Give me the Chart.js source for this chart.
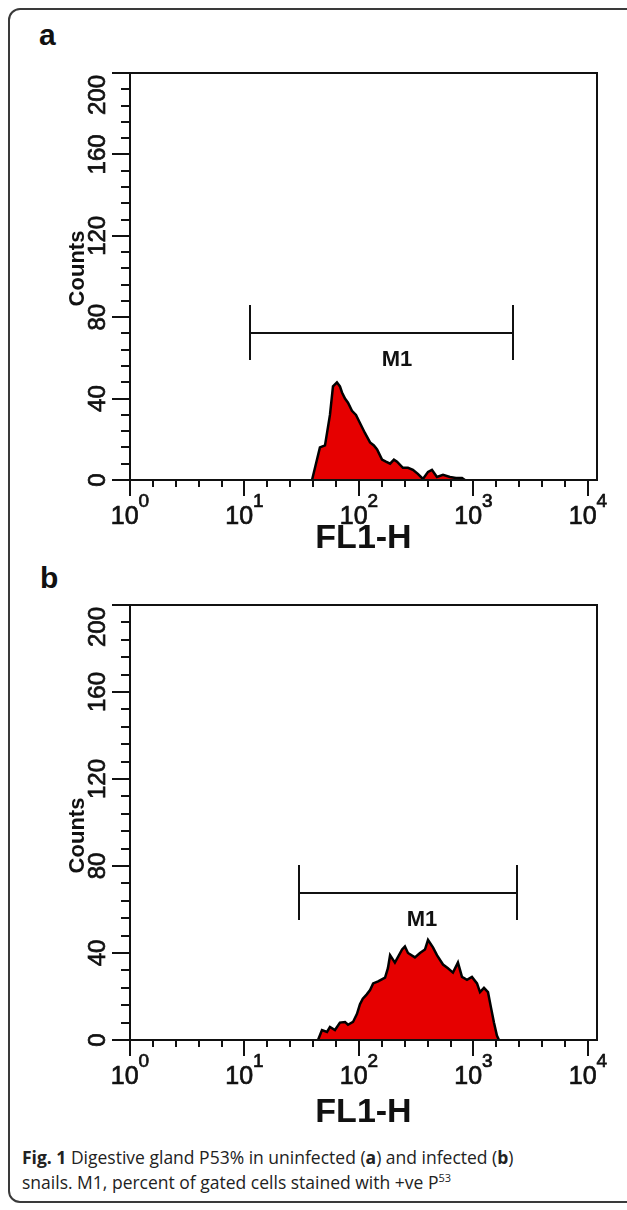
<!DOCTYPE html>
<html>
<head>
<meta charset="utf-8">
<script src="https://cdn.jsdelivr.net/npm/chart.js@4.4.1/dist/chart.umd.min.js"></script>
<style>
  html, body { margin: 0; padding: 0; background: #fff; }
  body { width: 627px; height: 1210px; position: relative; overflow: hidden; font-family: "Liberation Sans", Arial, sans-serif; }
  #frame { position: absolute; left: 8px; top: 8px; width: 640px; height: 1195px; border: 2px solid #3a3a3a; border-radius: 12px; box-sizing: border-box; }
  canvas { position: absolute; left: 0; }
  #cA { top: 0; }
  #cB { top: 560px; }
  .panel { position: absolute; font: bold 30px "Liberation Sans", Arial, sans-serif; color: #111; line-height: 30px; }
  #la { left: 39px; top: 20px; }
  #lb { left: 40px; top: 563px; }
  #cap { position: absolute; left: 22px; top: 1145px; font: 17.5px "Open Sans", sans-serif; line-height: 25px; color: #222; white-space: nowrap; }
  #cap sup { font-size: 11px; line-height: 0; }
</style>
</head>
<body>
<div id="frame"></div>
<div class="panel" id="la">a</div>
<div class="panel" id="lb">b</div>
<canvas id="cA" width="627" height="560"></canvas>
<canvas id="cB" width="627" height="580"></canvas>
<div id="cap"><b>Fig. 1</b> Digestive gland P53% in uninfected (<b>a</b>) and infected (<b>b</b>)<br>snails. M1, percent of gated cells stained with +ve P<sup>53</sup></div>
<script>
// ---------- data ----------
// Panel a (uninfected): FL1-H channel value and counts
const fl1A = [38.9, 41.3, 45.6, 50.5, 55.8, 59.3, 64.2, 68.2, 71.1, 75.5, 80.2, 86.9, 94.2, 102, 113, 125, 135, 144, 159, 172, 187, 202, 215, 242, 268, 296, 327, 362, 401, 434, 480, 542, 624, 703, 794, 843];
const countsA = [0, 6, 16, 17, 32, 46, 48, 46, 43, 40, 38, 34, 32, 28, 23, 18.5, 17, 15, 10, 9, 8, 10, 9, 6, 6, 5, 3, 0.5, 4, 5, 1.5, 2.5, 1.5, 1, 1, 0];
// Panel b (infected)
const fl1B = [43.9, 47.5, 52.6, 55.8, 61.7, 68.2, 75.5, 80.2, 88.7, 96.1, 102, 108, 117, 125, 133, 147, 169, 179, 187, 206, 238, 252, 268, 308, 341, 377, 401, 443, 480, 542, 599, 662, 732, 794, 878, 970, 1074, 1141, 1236, 1340, 1422, 1510, 1603, 1671];
const countsB = [0, 4.6, 3.7, 6, 4.6, 8, 8.3, 7, 8.3, 12, 16.5, 19, 21, 23, 26, 27, 28.7, 33, 39, 35.6, 41.6, 43, 40, 38, 40, 41.6, 46, 42.6, 39, 34.7, 33, 31, 35.6, 29, 27.7, 29, 26, 22, 24, 22, 15, 8, 2, 0];
// M1 gates: [low, high] FL1-H and bar level (counts)
const gateA = [11.2, 2213];
const gateLevelA = 72;
const gateB = [29.9, 2399];
const gateLevelB = 67.6;
// Axis ticks
const xDecades = [0, 1, 2, 3, 4];
const yMajorTicks = [0, 40, 80, 120, 160, 200];
const yTickLabels = ['0', '40', '80', '120', '160', '200'];
const xAxisTitle = 'FL1-H';
const yAxisTitle = 'Counts';
const gateLabel = 'M1';

// ---------- drawing ----------
const FONT = '"Liberation Sans", Arial, sans-serif';

function heavyText(ctx, s, x, y) {
  ctx.fillText(s, x, y);
  ctx.strokeText(s, x, y);
}

function axesPlugin(gate, level, labelX, titleOffset, countsShift) {
  return {
    id: 'flowAxes',
    afterDatasetsDraw(chart) {
      const ctx = chart.ctx;
      const xs = chart.scales.x, ys = chart.scales.y;
      const a = chart.chartArea;
      ctx.save();
      ctx.strokeStyle = '#111';
      ctx.fillStyle = '#111';
      ctx.lineWidth = 2;
      ctx.lineCap = 'butt';
      // box
      ctx.strokeRect(a.left, a.top, a.right - a.left, a.bottom - a.top);
      // y ticks every 8 counts
      for (let v = 0; v <= 200; v += 8) {
        const y = Math.round(ys.getPixelForValue(v));
        const major = v % 40 === 0;
        ctx.beginPath();
        ctx.moveTo(a.left - (major ? 18 : 9), y);
        ctx.lineTo(a.left, y);
        ctx.stroke();
      }
      // x ticks every 0.2 decade
      for (let k = 0; k <= 20; k++) {
        const v = Math.pow(10, k / 5);
        const x = Math.round(xs.getPixelForValue(v));
        const major = k % 5 === 0;
        ctx.beginPath();
        ctx.moveTo(x, a.bottom);
        ctx.lineTo(x, a.bottom + (major ? 16 : 7));
        ctx.stroke();
      }
      // y tick labels (rotated); top label kept inside the axis span
      ctx.lineWidth = 0.7;
      ctx.font = '24px ' + FONT;
      ctx.textAlign = 'center';
      ctx.textBaseline = 'alphabetic';
      yMajorTicks.forEach((v, i) => {
        let y = ys.getPixelForValue(v);
        const w = ctx.measureText(yTickLabels[i]).width;
        if (y - w / 2 < a.top + 2) y = a.top + 2 + w / 2;
        ctx.save();
        ctx.translate(a.left - 25, y);
        ctx.rotate(-Math.PI / 2);
        heavyText(ctx, yTickLabels[i], 0, 0);
        ctx.restore();
      });
      // y title
      ctx.save();
      ctx.font = 'bold 22px ' + FONT;
      ctx.translate(a.left - 46, (a.top + a.bottom) / 2 + countsShift);
      ctx.rotate(-Math.PI / 2);
      ctx.fillText(yAxisTitle, 0, 0);
      ctx.restore();
      // x tick labels 10^k
      xDecades.forEach(d => {
        const x = xs.getPixelForValue(Math.pow(10, d));
        ctx.font = '25px ' + FONT;
        const w1 = ctx.measureText('10').width;
        ctx.font = '19px ' + FONT;
        const w2 = ctx.measureText(String(d)).width;
        const x0 = x - (w1 + w2) / 2;
        ctx.textAlign = 'left';
        ctx.font = '25px ' + FONT;
        heavyText(ctx, '10', x0, a.bottom + 44);
        ctx.font = '19px ' + FONT;
        heavyText(ctx, String(d), x0 + w1, a.bottom + 27);
      });
      ctx.lineWidth = 2;
      // x title
      ctx.textAlign = 'center';
      ctx.font = 'bold 34px ' + FONT;
      ctx.fillText(xAxisTitle, (a.left + a.right) / 2, a.bottom + titleOffset);
      // M1 gate bracket
      const gx1 = Math.round(xs.getPixelForValue(gate[0]));
      const gx2 = Math.round(xs.getPixelForValue(gate[1]));
      const gy = Math.round(ys.getPixelForValue(level));
      ctx.beginPath();
      ctx.moveTo(gx1, gy); ctx.lineTo(gx2, gy);
      ctx.moveTo(gx1, gy - 28); ctx.lineTo(gx1, gy + 27);
      ctx.moveTo(gx2, gy - 28); ctx.lineTo(gx2, gy + 27);
      ctx.stroke();
      ctx.font = 'bold 22px ' + FONT;
      ctx.fillText(gateLabel, xs.getPixelForValue(labelX), gy + 33);
      ctx.restore();
    }
  };
}

function makeChart(id, xsData, ysData, gate, level, labelX, pad, titleOffset, countsShift) {
  const pts = xsData.map((x, i) => ({ x: x, y: ysData[i] }));
  return new Chart(document.getElementById(id), {
    type: 'line',
    data: {
      datasets: [{
        data: pts,
        fill: 'origin',
        backgroundColor: '#e60000',
        borderColor: '#000',
        borderWidth: 2.5,
        pointRadius: 0,
        tension: 0
      }]
    },
    options: {
      responsive: false,
      devicePixelRatio: 1,
      animation: false,
      layout: { padding: pad },
      plugins: { legend: { display: false }, tooltip: { enabled: false } },
      scales: {
        x: { type: 'logarithmic', min: 1, max: 12000, display: false },
        y: { type: 'linear', min: 0, max: 200, display: false }
      }
    },
    plugins: [axesPlugin(gate, level, labelX, titleOffset, countsShift)]
  });
}

// panel a: plot area y 73..480 ; panel b: 605..1040 (canvas B starts at 560)
makeChart('cA', fl1A, countsA, gateA, gateLevelA, 215, { left: 130, right: 30, top: 73, bottom: 80 }, 68, -8);
makeChart('cB', fl1B, countsB, gateB, gateLevelB, 355, { left: 130, right: 30, top: 45, bottom: 100 }, 82, 13);
</script>
</body>
</html>
